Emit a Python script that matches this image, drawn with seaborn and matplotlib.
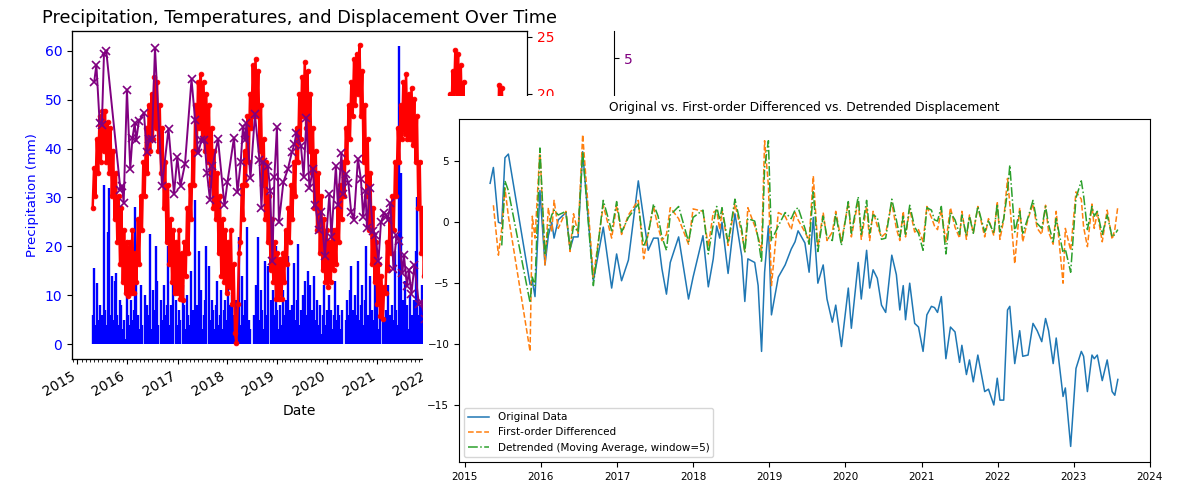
import numpy as np
import pandas as pd
import matplotlib
matplotlib.use("Agg")
import matplotlib.pyplot as plt
import matplotlib.dates as mdates
from matplotlib.patches import Rectangle
import seaborn as sns

nan = float("nan")

# ---------------- data ----------------
# climate series sampled every 10 days from this date
clim_start = "2015-04-22"

precip_mm = [
    6, 15.5, 4, 12.5, 5, 8, 3, 6, 32.5, 7,
    4, 23, 32, 6, 14, 5, 13, 14.5, 6, 4,
    9, 8, 3, 5, 1, 13, 6, 4, 9, 5,
    7, 28, 19, 6, 3, 12, 4, 0, 10, 5,
    8, 6, 22.5, 3, 11, 7, 20, 13, 4, 0,
    9, 5, 12, 6, 8, 20, 4, 8, 6, 14,
    0, 9, 4, 7, 5, 0, 12, 8, 3, 10,
    6, 4, 15, 7, 5, 29.5, 8, 6, 19, 11,
    3, 6, 9, 20, 0, 16, 5, 9, 7, 3,
    8, 13, 4, 6, 11, 3, 7, 9, 5, 13,
    8, 4, 10, 6, 3, 9, 7, 22, 4, 14,
    6, 9, 8, 24, 5, 3, 0, 0, 6, 12,
    9, 22, 5, 11, 7, 3, 17, 6, 16, 0,
    9, 5, 11, 6, 20, 7, 3, 8, 4, 11,
    6, 9, 5, 18, 7, 3, 8, 16.5, 5, 9,
    20.5, 4, 7, 0, 10, 13, 6, 15, 3, 12,
    7, 0, 14, 5, 9, 4, 8, 2, 6, 12,
    4, 7, 5, 10, 7, 3, 6, 13, 5, 8,
    6, 3, 7, 0, 0, 5, 9, 6, 11, 16,
    7, 4, 10, 6, 17, 5, 8, 12, 4, 9,
    20, 6, 3, 14, 7, 5, 12, 4, 8, 3,
    6, 0, 9, 5, 7, 4, 12, 6, 3, 8,
    5, 19, 7, 4, 61, 35, 6, 9, 13, 5,
    8, 3, 10, 6, 4, 9, 19, 30, 6, 8,
    4, 12, 5, 9, 3, 7, 4, 10, 6, 3,
    14, 5, 8, 2, 11, 6, 4, 9, 18, 5,
    7, 3, 12, 6, 0, 9, 4, 15, 6, 3,
    8, 11, 5, 7, 2, 13, 6, 4, 9, 5,
    16, 7, 3, 10, 6, 4, 12, 5, 8, 3,
    14, 6, 9, 4, 20, 7, 3, 11, 5, 8,
    4, 13, 6,
]

temp_c = [
    10, 13.5, 11, 16, 13, 18, 14, 18.5, 15, 18.5,
    14, 17.5, 13, 17, 11, 15, 9, 13, 7, 11,
    5, 10, 3.5, 8, 2.5, 7, 2.2, 7, 2.5, 8,
    2.5, 6, 3.5, 9, 5, 11, 8, 14, 11, 17,
    13, 19, 15, 20, 16, 21.5, 17, 21, 15, 19,
    13, 17, 10, 14, 7, 12, 5, 9, 3.5, 8,
    2.5, 7, 2.5, 8, 2, 6, 1.9, 7, 4, 10,
    6, 12, 9, 15, 12, 19, 15, 21, 17, 21.7,
    16, 21, 15, 20, 14, 19, 12, 17, 10, 15,
    9, 13, 6, 11, 4, 9, 3.5, 8, 2.5, 7,
    3, 8, 1.5, 5, -1, -1.9, 1.5, 6, 7, 12,
    9, 15, 12, 18, 14, 20, 17, 22.5, 18, 23,
    18, 22, 15, 19, 12, 16, 9, 14, 7, 11,
    4.5, 9, 3.5, 7, 2, 6, 2, 5.5, 2, 6,
    3.5, 8, 5, 10, 7, 12, 9, 14, 11, 17,
    14, 20, 16, 21.5, 18, 22.8, 17, 22, 15, 20,
    13, 17, 10, 15, 8, 13, 6, 11, 4.5, 9,
    3.5, 8, 3, 7, 3.5, 8, 4.5, 8, 5, 10,
    7, 12, 9, 14, 11, 17, 14, 19, 16, 21,
    18, 23, 19, 23.5, 20, 24.3, 18, 22, 14, 19,
    11, 16, 8, 13, 5, 10, 3.5, 7, 1.5, 5,
    0.5, 4, 0.2, 3, 2.5, 7, 4.5, 9, 6, 11,
    8, 14, 11, 17, 14, 19, 16, 21, 16.5, 21.7,
    16, 20, 16, 20.5, 15.5, 19.5, 14, 18, 10, 14,
    6, 10, 4, 8, 2.5, 6, 1.5, 6, 2.5, 7,
    4, 9, 6, 11, 8, 13, 10, 15, 12, 18,
    15, 20, 17, 22, 19.5, 23.8, 20, 23.5, 19, 22.5,
    17, 21, 14, 18, 10, 14, 7, 11, 4, 8,
    2.5, 6, 1.5, 6, 2.5, 7, 4, 9, 6, 11,
    8, 13, 10, 15, 12, 18, 15, 20.8, 17, 20.5,
    16, 19.5, 16.5,
]

# displacement acquisitions (decimal years)
disp_years = [
    2015.335, 2015.378, 2015.444, 2015.488, 2015.530, 2015.575, 2015.860, 2015.890, 2015.925, 2015.990,
    2016.056, 2016.100, 2016.145, 2016.175, 2016.230, 2016.330, 2016.385, 2016.430, 2016.490, 2016.550,
    2016.690, 2016.820, 2016.930, 2016.995, 2017.060, 2017.150, 2017.280, 2017.350, 2017.410, 2017.480,
    2017.540, 2017.590, 2017.650, 2017.700, 2017.810, 2017.940, 2018.000, 2018.130, 2018.200, 2018.265,
    2018.310, 2018.350, 2018.380, 2018.460, 2018.550, 2018.640, 2018.680, 2018.720, 2018.810, 2018.855,
    2018.900, 2018.940, 2018.990, 2019.030, 2019.120, 2019.210, 2019.290, 2019.340, 2019.380, 2019.470,
    2019.525, 2019.580, 2019.640, 2019.710, 2019.760, 2019.830, 2019.875, 2019.950, 2020.040, 2020.080,
    2020.170, 2020.210, 2020.280, 2020.320, 2020.365, 2020.420, 2020.475, 2020.530, 2020.610, 2020.670,
    2020.715, 2020.760, 2020.790, 2020.845, 2020.910, 2020.960, 2021.020, 2021.070, 2021.130, 2021.170,
    2021.210, 2021.260, 2021.320, 2021.380, 2021.440, 2021.500, 2021.530, 2021.590, 2021.630, 2021.680,
    2021.740, 2021.830, 2021.880, 2021.950, 2021.995, 2022.030, 2022.080, 2022.130, 2022.160, 2022.225,
    2022.290, 2022.330, 2022.400, 2022.465, 2022.520, 2022.580, 2022.630, 2022.670, 2022.730, 2022.770,
    2022.860, 2022.890, 2022.960, 2023.030, 2023.100, 2023.130, 2023.180, 2023.240, 2023.270, 2023.310,
    2023.375, 2023.440, 2023.505, 2023.540, 2023.580,
]

disp_original = [
    3.2, 4.5, 0.0, -0.1, 5.3, 5.6, -5.1, -4.8, -6.1, 2.6,
    -3.5, -1.1, 0.0, -1.3, 0.2, 0.8, -2.2, -1.2, -1.2, 5.8,
    -4.8, -0.4, -5.4, -2.6, -4.8, -3.1, 3.4, 0.3, -2.3, -1.3,
    -1.3, -3.8, -5.9, -3.3, -1.2, -6.3, -4.5, -1.1, -5.3, -3.0,
    -0.3, -1.3, 0.0, -4.2, 0.7, -2.8, -6.5, -3.0, -3.3, -5.2,
    -10.6, -4.1, -0.3, -7.6, -4.5, -3.5, -2.2, -1.6, -0.7, -1.7,
    -4.1, 0.4, -5.0, -3.5, -6.3, -8.2, -6.8, -10.2, -5.4, -8.7,
    -3.3, -6.3, -2.3, -5.4, -3.9, -4.6, -6.8, -7.4, -2.7, -4.3,
    -7.2, -5.2, -8.0, -5.0, -8.3, -8.6, -10.6, -7.6, -6.9, -7.0,
    -7.4, -6.1, -11.2, -8.6, -9.0, -11.5, -10.1, -12.5, -11.3, -13.1,
    -10.9, -13.9, -13.7, -15.0, -12.8, -14.6, -14.6, -7.2, -6.9, -11.6,
    -8.9, -11.0, -10.9, -8.3, -8.9, -9.8, -7.9, -8.9, -11.6, -9.5,
    -14.3, -13.6, -18.4, -12.0, -10.6, -11.0, -13.9, -10.9, -11.2, -10.9,
    -13.0, -11.3, -13.9, -14.2, -12.9,
]

disp_differenced = [
    nan, 1.4, -2.7, -0.5, 2.8, 0.5, -10.6, 0.5, -1.3, 6.0,
    -3.5, 1.2, -0.8, 1.8, -0.5, 0.9, -2.4, 0.7, -0.9, 7.2,
    -4.5, 1.4, -1.3, 1.4, -1.0, 0.6, 1.8, -3.0, -0.9, 1.3,
    -0.4, -1.5, -1.0, 1.2, 0.3, -1.8, 1.1, 0.9, -2.0, 0.8,
    1.0, -0.6, 0.9, -1.9, 1.5, -0.9, -2.4, 1.2, -0.3, -1.2,
    -2.3, 6.7, 3.0, -5.2, 0.8, 0.5, -0.6, 0.8, 0.2, -0.8,
    -1.5, 3.8, -2.0, 0.8, -1.5, -0.8, 0.9, -1.6, 1.6, -1.2,
    1.8, -1.4, 1.3, -1.5, 0.9, -0.3, -1.2, -0.9, 1.6, -0.5,
    -1.5, 0.9, -1.2, 1.1, -0.8, -0.6, -1.6, 1.3, 0.4, -0.3,
    -0.6, 1.0, -1.6, 1.2, -0.4, -1.3, 0.9, -1.4, 0.6, -0.9,
    1.3, -1.2, 0.3, -1.1, 1.7, -1.4, 0.2, 3.6, 1.5, -3.4,
    1.2, -1.6, 0.3, 1.5, -0.5, -1.0, 1.4, -0.8, -1.8, 0.9,
    -5.0, -0.5, -2.3, 2.5, 1.9, -0.4, -2.0, 1.5, -0.5, 0.8,
    -1.6, 1.0, -1.4, -0.6, 1.3,
]

disp_detrended = [
    nan, nan, nan, -1.9, 3.4, 2.6, -6.6, -4.5, -5.2, 6.1,
    -2.7, -0.5, 0.6, 1.0, 0.6, 0.9, -2.2, -0.3, -0.8, 5.8,
    -5.2, 1.8, -0.7, 1.7, -0.8, 0.4, 1.5, -2.0, -1.0, 1.5,
    0.5, -1.2, -2.3, 0.6, 1.3, -1.6, 0.4, 1.0, -2.6, -0.2,
    1.3, 0.2, 1.2, -1.7, 1.9, -0.6, -2.5, 0.3, 0.1, -1.3,
    -3.3, 4.5, 6.7, -1.5, -0.3, 0.8, 0.3, 1.0, 1.2, -0.5,
    -1.8, 2.5, -2.4, 0.5, -1.2, -1.5, 0.7, -1.9, 1.7, -0.9,
    2.1, -1.0, 1.8, -0.9, 0.6, 0.4, -1.4, -1.3, 1.9, 0.2,
    -1.2, 0.5, -1.1, 1.4, -0.4, -0.9, -2.3, 1.2, 1.0, 0.2,
    0.1, 1.3, -2.6, 0.8, 0.2, -1.0, 0.6, -1.1, 0.5, -0.9,
    1.3, -0.8, 0.1, -0.9, 1.5, -0.8, 0.3, 2.5, 4.7, -0.8,
    0.9, -0.9, 0.4, 1.8, -0.1, -0.5, 1.3, -0.2, -1.6, 0.3,
    -2.5, -2.2, -4.1, 2.0, 3.4, 2.2, -0.6, 1.3, 0.5, 0.9,
    -1.0, 0.6, -1.2, -1.0, -0.6,
]


def to_dates(years):
    out = []
    for y in years:
        yr = int(y)
        start = pd.Timestamp(yr, 1, 1)
        out.append(start + (pd.Timestamp(yr + 1, 1, 1) - start) * (y - yr))
    return pd.DatetimeIndex(out)


precip_df = pd.DataFrame({
    "date": pd.date_range(clim_start, periods=len(precip_mm), freq="10D"),
    "precip": precip_mm,
})
temp_df = pd.DataFrame({
    "date": pd.date_range(clim_start, periods=len(temp_c), freq="10D"),
    "temp": temp_c,
})
disp_df = pd.DataFrame({
    "date": to_dates(disp_years),
    "original": disp_original,
    "diff": disp_differenced,
    "detr": disp_detrended,
})

W, H = 1179, 480
fig = plt.figure(figsize=(W / 100, H / 100), dpi=100)

# ---------------- left chart ----------------
ax1 = fig.add_axes([72 / W, (H - 359) / H, (527 - 72) / W, (359 - 31) / H])
ax1.vlines(precip_df["date"], 0, precip_df["precip"], color="blue", linewidth=1.7)

ax_t = ax1.twinx()
sns.lineplot(data=temp_df, x="date", y="temp", ax=ax_t, color="red",
             marker="o", markersize=3.4, markeredgecolor="red",
             markeredgewidth=0.6, linewidth=1.8, errorbar=None)

ax_d = ax1.twinx()
ax_d.spines["right"].set_position(("outward", 62.6))
sns.lineplot(data=disp_df, x="date", y="original", ax=ax_d, color="purple",
             marker="x", markersize=5.5, markeredgecolor="purple",
             markeredgewidth=1.2, linewidth=1.4, errorbar=None)

ax_t.set_ylim(-3.3, 25.5)
ax_d.set_ylim(-18.1, 7.1)

ax1.set_title("Precipitation, Temperatures, and Displacement Over Time", fontsize=12.8)
ax1.set_xlabel("Date", fontsize=10)
ax1.set_ylabel("Precipitation (mm)", color="blue", fontsize=9.5)
ax1.tick_params(axis="y", labelcolor="blue", labelsize=10)
ax1.tick_params(axis="x", labelsize=10)
ax_t.set_ylabel("Temperature (°C)", color="red", fontsize=10)
ax_t.tick_params(axis="y", labelcolor="red", labelsize=10)
ax_t.set_xlabel("")
ax_d.set_ylabel("Displacement", color="purple", fontsize=10)
ax_d.tick_params(axis="y", labelcolor="purple", labelsize=10)
ax_d.set_xlabel("")

ax1.xaxis.set_major_locator(mdates.YearLocator())
ax1.xaxis.set_major_formatter(mdates.DateFormatter("%Y"))
ax1.xaxis.set_minor_locator(mdates.MonthLocator())
for lbl in ax1.get_xticklabels():
    lbl.set_rotation(30)
    lbl.set_ha("right")

# white background of the overlaid second chart
fig.add_artist(Rectangle((422.5 / W, 0), 1 - 422.5 / W, (H - 95.5) / H,
                         transform=fig.transFigure, facecolor="white",
                         edgecolor="none", zorder=5))

# ---------------- right chart ----------------
ax2 = fig.add_axes([459 / W, (H - 462) / H, (1150 - 459) / W, (462 - 119) / H])
ax2.set_zorder(10)
sns.lineplot(data=disp_df, x="date", y="original", ax=ax2, color="#1f77b4",
             linewidth=1.1, label="Original Data", errorbar=None)
sns.lineplot(data=disp_df, x="date", y="diff", ax=ax2, color="#ff7f0e",
             linestyle="--", linewidth=1.1, label="First-order Differenced", errorbar=None)
sns.lineplot(data=disp_df, x="date", y="detr", ax=ax2, color="#2ca02c",
             linestyle="-.", linewidth=1.1,
             label="Detrended (Moving Average, window=5)", errorbar=None)
ax2.set_title("Original vs. First-order Differenced vs. Detrended Displacement", fontsize=8.8)
ax2.set_xlabel("")
ax2.set_ylabel("")
ax2.tick_params(labelsize=7.5)
ax2.set_xlim(pd.Timestamp("2014-12-05"), pd.Timestamp("2024-01-02"))
ax2.xaxis.set_major_locator(mdates.YearLocator())
ax2.xaxis.set_major_formatter(mdates.DateFormatter("%Y"))
ax2.legend(loc="lower left", fontsize=7.5)

fig.savefig("out.png", dpi=100)
